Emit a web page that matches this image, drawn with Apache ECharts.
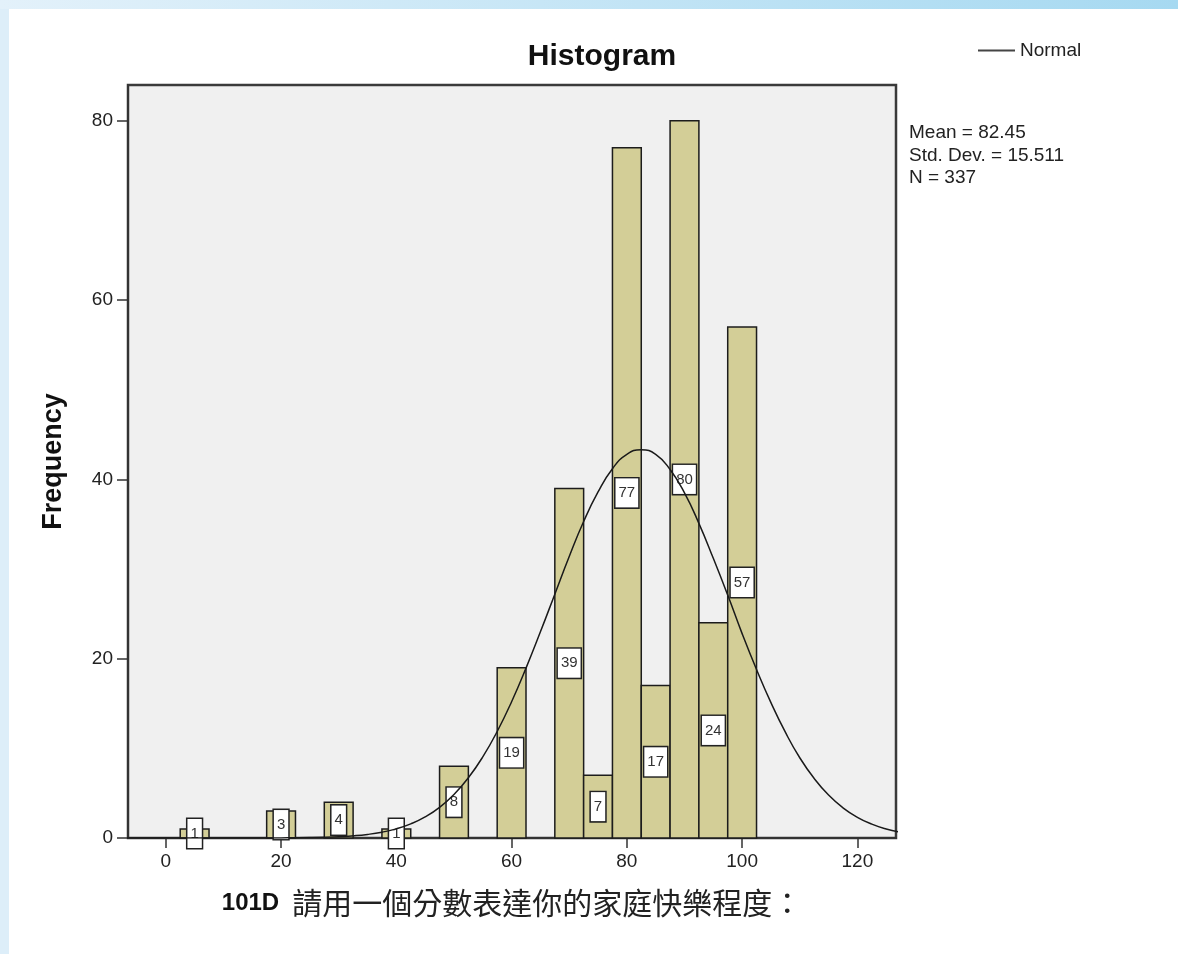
<!DOCTYPE html>
<html><head><meta charset="utf-8">
<script src="https://cdn.jsdelivr.net/npm/echarts@6/dist/echarts.min.js"></script>
<style>html,body{margin:0;padding:0;background:#fff}#c{width:1178px;height:954px}</style>
</head><body><div id="c"></div>
<script>
// ---- data ----
const binCenters = [5, 20, 30, 40, 50, 60, 70, 75, 80, 85, 90, 95, 100];
const frequencies = [1, 3, 4, 1, 8, 19, 39, 7, 77, 17, 80, 24, 57];
const normalX = [-7.5, 0, 10, 20, 25, 30, 32.5, 35, 37.5, 40, 42.5, 45, 47.5, 50, 52.5, 55, 57.5, 60, 62.5, 65, 67.5, 70, 72.5, 75, 77.5, 80, 82.5, 85, 87.5, 90, 92.5, 95, 97.5, 100, 102.5, 105, 107.5, 110, 112.5, 115, 117.5, 120, 122.5, 125, 127.5];
const normalY = [0, 0, 0.001, 0.013, 0.045, 0.14, 0.24, 0.40, 0.65, 1.02, 1.57, 2.35, 3.42, 4.86, 6.72, 9.05, 11.88, 15.2, 18.95, 23.0, 27.2, 31.4, 35.3, 38.6, 41.2, 42.8, 43.3, 42.8, 41.1, 38.5, 35.1, 31.2, 27.1, 22.8, 18.8, 15.1, 11.8, 8.95, 6.64, 4.79, 3.37, 2.31, 1.55, 1.01, 0.64];
const xTicks = [0, 20, 40, 60, 80, 100, 120];
const yTicks = [0, 20, 40, 60, 80];
const statsLines = ['Mean = 82.45', 'Std. Dev. = 15.511', 'N = 337'];
const titleText = 'Histogram';
const xNameCode = '101D';
const xNameText = '請用一個分數表達你的家庭快樂程度：';
const yNameText = 'Frequency';
const legendName = 'Normal';

// ---- chart ----
const binWidth = 5;
const LS = '"Liberation Sans", Arial, sans-serif';
const chart = echarts.init(document.getElementById('c'));
const barData = binCenters.map((x, i) => [x, frequencies[i]]);
const lineData = normalX.map((x, i) => [x, normalY[i]]);

chart.setOption({
  animation: false,
  backgroundColor: '#ffffff',
  grid: { left: 128, top: 85, right: 282, bottom: 116, show: true, backgroundColor: '#F0F0F0', borderColor: '#3a3a3a', borderWidth: 2.5 },
  legend: {
    data: [legendName], left: 978, top: 41, icon: 'rect', itemWidth: 37, itemHeight: 2, padding: 0,
    textStyle: { fontSize: 19, color: '#222', fontFamily: LS }
  },
  xAxis: {
    type: 'value', min: -6.56, max: 126.7,
    axisLine: { show: true, onZero: false, lineStyle: { color: '#333', width: 2 } },
    axisTick: { show: true, length: 10, customValues: xTicks, lineStyle: { color: '#333', width: 1.5 } },
    axisLabel: { customValues: xTicks, fontSize: 19, color: '#222', fontFamily: LS, margin: 14 },
    splitLine: { show: false },
    name: '{a|' + xNameCode + '}{b|' + xNameText + '}', nameLocation: 'middle', nameGap: 50,
    nameTextStyle: {
      color: '#111',
      rich: {
        a: { fontSize: 24, fontWeight: 'bold', fontFamily: LS, color: '#111', padding: [0, 13, 0, 0] },
        b: { fontSize: 30, fontFamily: '"Noto Sans CJK TC", sans-serif', color: '#222' }
      }
    }
  },
  yAxis: {
    type: 'value', min: 0, max: 84, interval: 20,
    axisLine: { show: true, onZero: false, lineStyle: { color: '#333', width: 2 } },
    axisTick: { show: true, length: 11, customValues: yTicks, lineStyle: { color: '#333', width: 1.5 } },
    axisLabel: { fontSize: 19, color: '#222', fontFamily: LS, margin: 15, customValues: yTicks },
    splitLine: { show: false },
    name: yNameText, nameLocation: 'middle', nameGap: 61,
    nameTextStyle: { fontSize: 27, fontWeight: 'bold', fontFamily: LS, color: '#111' }
  },
  graphic: [
    { type: 'rect', silent: true, z: -10, shape: { x: 0, y: 0, width: 9, height: 954 }, style: { fill: '#DDEEF9' } },
    { type: 'rect', silent: true, z: -10, shape: { x: 0, y: 0, width: 1178, height: 9 },
      style: { fill: new echarts.graphic.LinearGradient(0, 0, 1, 0, [{ offset: 0, color: '#E3F1FA' }, { offset: 1, color: '#A6D9F1' }]) } },
    { type: 'text', x: 602, y: 57, style: { text: titleText, align: 'center', verticalAlign: 'middle', font: 'bold 30px ' + LS, fill: '#111' } },
    { type: 'text', x: 909, y: 122, style: { text: statsLines.join('\n'), align: 'left', verticalAlign: 'top', font: '19px ' + LS, lineHeight: 22.5, fill: '#222' } }
  ],
  series: [
    {
      type: 'custom', name: 'bars', z: 2,
      data: barData,
      encode: { x: 0, y: 1 },
      renderItem: function (params, api) {
        const x = api.value(0), v = api.value(1);
        const p0 = api.coord([x - binWidth / 2, v]);
        const p1 = api.coord([x + binWidth / 2, 0]);
        const mid = api.coord([x, v / 2]);
        return {
          type: 'group', children: [
            { type: 'rect', shape: { x: p0[0], y: p0[1], width: p1[0] - p0[0], height: p1[1] - p0[1] },
              style: { fill: '#D3CE97', stroke: '#1c1c1c', lineWidth: 1.5 } },
            { type: 'text', x: mid[0], y: mid[1], z2: 10,
              style: { text: String(v), align: 'center', verticalAlign: 'middle', fill: '#333',
                font: '15px "Liberation Sans Narrow", "Liberation Sans", Arial, sans-serif', lineHeight: 15,
                backgroundColor: '#ffffff', borderColor: '#222', borderWidth: 1.5, padding: [7, 3] } }
          ]
        };
      }
    },
    {
      type: 'line', name: legendName, z: 5, data: lineData, smooth: true, showSymbol: false, symbol: 'none',
      lineStyle: { color: '#1a1a1a', width: 1.5 }, itemStyle: { color: '#444' }
    }
  ]
});
</script></body></html>
